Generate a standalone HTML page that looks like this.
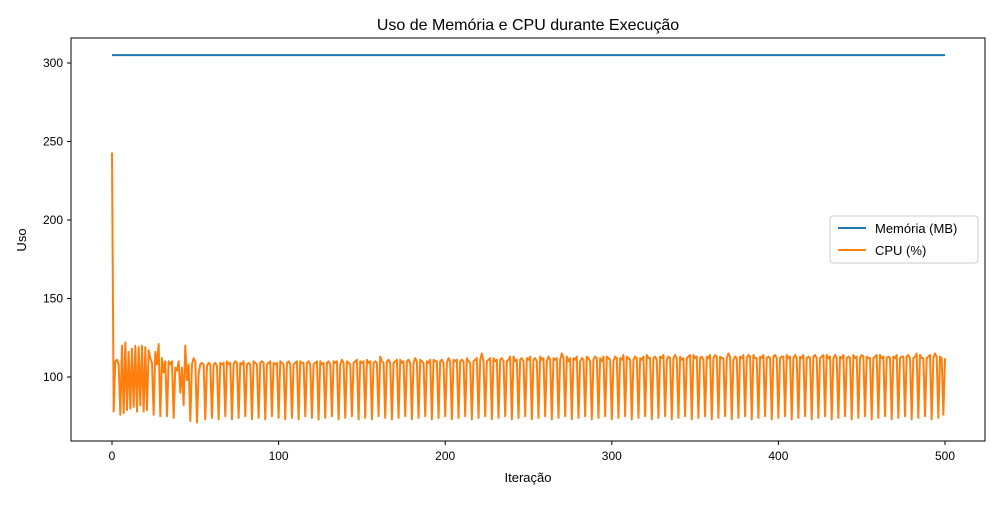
<!DOCTYPE html>
<html><head><meta charset="utf-8"><style>
body{margin:0;background:#fff}
svg{font-family:"Liberation Sans","DejaVu Sans",sans-serif}
</style></head><body>
<svg id="chart" width="1000" height="500">
<rect width="1000" height="500" fill="#fff"/>
<text x="528" y="30" text-anchor="middle" font-size="16">Uso de Memória e CPU durante Execução</text>
<g id="axes"></g>
<g id="series"></g>
<rect x="71" y="38" width="914" height="403" fill="none" stroke="#000" stroke-width="1"/>
<text x="528" y="482" text-anchor="middle" font-size="13">Iteração</text>
<text transform="translate(26,240) rotate(-90)" text-anchor="middle" font-size="13">Uso</text>
<g>
<rect x="830" y="216" width="148" height="47" rx="3" fill="#fff" stroke="#ccc"/>
<line x1="838" y1="228" x2="866" y2="228" stroke="#1f77b4" stroke-width="2"/>
<text x="875" y="233" font-size="13">Memória (MB)</text>
<line x1="838" y1="250" x2="866" y2="250" stroke="#ff7f0e" stroke-width="2"/>
<text x="875" y="255" font-size="13">CPU (%)</text>
</g>
</svg>
<script>
const xTicks=[0,100,200,300,400,500];
const yTicks=[100,150,200,250,300];
const memoryValue=305;
const cpuValues=[243,78,110,111,108,76,120,77,122,79,116,80,118,81,120,78,119,82,120,78,119,79,117,112,109,76,116,108,121,75,112,103,110,75,110,108,110,74,106,104,110,90,106,82,120,98,108,72,108,112,110,71,102,
108,109,108,73,107,109,108,74,108,109,107,73,109,108,109,75,
110,108,109,73,108,110,109,74,109,108,110,75,108,109,108,73,
110,109,108,74,109,110,109,73,108,109,110,75,109,108,109,74,
110,109,108,73,109,110,108,74,108,109,110,73,110,109,109,75,
109,110,108,74,108,109,110,73,110,108,109,74,109,110,108,75,
110,109,110,73,108,111,109,74,110,109,108,75,109,110,111,73,
110,109,110,74,111,109,110,73,109,110,109,75,113,110,109,74,
110,111,109,73,109,110,111,74,111,109,110,75,110,111,109,73,
109,112,110,74,111,110,109,75,110,109,111,73,111,110,110,74,
110,111,109,75,109,112,110,73,111,110,111,74,110,111,110,75,
112,110,109,73,110,111,112,74,111,115,110,75,110,111,112,73,
112,110,111,74,111,112,110,75,110,111,113,73,113,110,111,74,
111,112,110,75,112,111,113,73,111,112,110,74,113,111,112,75,
110,113,111,73,112,111,112,74,111,115,112,75,113,110,112,73,
112,111,113,74,110,112,111,75,113,112,110,73,111,113,112,74,
112,110,113,75,113,112,111,73,110,113,112,74,112,111,114,75,
113,112,111,73,111,113,112,74,112,111,113,75,114,112,112,73,
112,113,111,74,113,112,114,75,111,113,112,73,112,114,112,74,
113,111,112,75,112,113,114,73,114,112,113,74,112,113,111,75,
113,112,114,73,112,114,113,74,113,112,112,75,112,115,113,73,
111,113,112,74,113,112,114,75,112,114,113,73,114,112,112,74,
113,112,114,75,112,113,112,73,113,114,112,74,112,113,113,75,
114,112,113,73,112,114,112,74,113,112,114,75,112,113,112,73,
113,114,112,74,112,113,114,75,114,112,113,73,112,114,112,74,
113,112,114,75,112,113,112,73,114,112,113,74,112,114,113,75,
113,112,112,73,112,113,114,74,114,112,113,75,112,113,112,73,
113,112,114,74,112,113,113,75,113,114,112,73,112,113,115,74,
114,112,112,75,112,113,114,73,112,115,113,74,113,112,76,112];
const ns="http://www.w3.org/2000/svg";
const X=v=>112+v*(945-112)/500;
const Y=v=>377-(v-100)*(377-63)/200;
const axes=document.getElementById('axes');
function mk(tag,attrs,parent){const e=document.createElementNS(ns,tag);for(const k in attrs)e.setAttribute(k,attrs[k]);parent.appendChild(e);return e;}
xTicks.forEach(t=>{
  const l=mk('line',{x1:X(t),x2:X(t),y1:441,y2:445,stroke:'#000'},axes);
  
  
  const tx=mk('text',{x:X(t),y:460,'text-anchor':'middle','font-size':12},axes);
  tx.textContent=t;
  
  
});
yTicks.forEach(t=>{
  const l=mk('line',{x1:67,x2:71,y1:Y(t),y2:Y(t),stroke:'#000'},axes);
  
  
  const tx=mk('text',{x:63,y:Y(t)+4,'text-anchor':'end','font-size':12},axes);
  tx.textContent=t;
  
  
});
const g=document.getElementById('series');
const mem=mk('line',{x1:X(0),x2:X(cpuValues.length-1),y1:Y(memoryValue),y2:Y(memoryValue),stroke:'#1f77b4','stroke-width':2},g);


const cpu=mk('polyline',{points:cpuValues.map((v,i)=>X(i).toFixed(2)+','+Y(v).toFixed(2)).join(' '),fill:'none',stroke:'#ff7f0e','stroke-width':2,'stroke-linejoin':'round'},g);


</script>
</body></html>
